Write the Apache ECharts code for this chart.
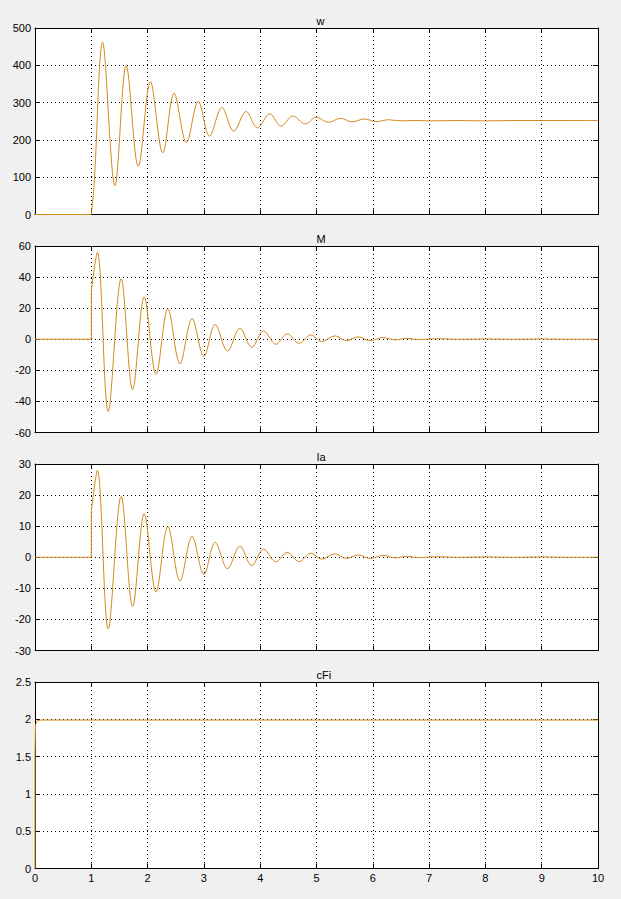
<!DOCTYPE html>
<html>
<head>
<meta charset="utf-8">
<script src="https://cdn.jsdelivr.net/npm/echarts@6/dist/echarts.min.js"></script>
<style>
html,body{margin:0;padding:0;background:#f0f0f0;}
#chart{width:621px;height:899px;}
</style>
</head>
<body>
<div id="chart"></div>
<script>
// ---- data ----
var panelTitles = ['w', 'M', 'Ia', 'cFi'];
var xTicks = [0, 1, 2, 3, 4, 5, 6, 7, 8, 9, 10];

// w : flat before the start, then damped oscillation towards ~252
var wFlatT = [0, 1.0];
var wFlatV = [0, 0];
var wT = [1.0, 1.05, 1.20, 1.42, 1.62, 1.835, 2.05, 2.27, 2.47, 2.69, 2.90, 3.10, 3.32, 3.53, 3.75, 3.95, 4.17, 4.37, 4.58, 4.80, 5.00, 5.21, 5.43, 5.63, 5.85, 6.07, 6.28, 6.5, 6.75, 7.0, 7.5, 8.0, 8.5, 9.0, 9.5, 10];
var wV = [0, 80, 462, 77, 399, 129, 356, 165, 325, 193, 303, 210, 287, 223, 276, 232, 270, 237, 264, 243, 261, 247, 258, 248, 256, 249, 254, 251, 252, 251, 252, 251, 252, 252, 252, 252];

// M : flat, step at t=1, damped oscillation around 0
var mFlatT = [0, 1.0, 1.0];
var mFlatV = [0, 0, 31];
var mT = [1.0, 1.107, 1.30, 1.53, 1.735, 1.94, 2.15, 2.36, 2.575, 2.79, 3.0, 3.20, 3.42, 3.64, 3.85, 4.06, 4.28, 4.48, 4.69, 4.90, 5.09, 5.33, 5.53, 5.74, 5.96, 6.18, 6.4, 6.6, 6.85, 7.1, 7.5, 8.0, 8.5, 9.0, 9.5, 10];
var mV = [31, 56, -46.5, 39, -32.5, 27.3, -22.6, 19.6, -15.7, 13.3, -11, 9.5, -7.6, 7.1, -5.2, 5.4, -3.2, 3.5, -2.6, 2.8, -1.5, 2.2, -0.9, 1.5, -0.9, 1.1, -0.4, 0.6, -0.3, 0.4, 0, 0.2, 0, 0.2, 0, 0];

// Ia : same shape, about half the amplitude
var iFlatT = [0, 1.0, 1.0];
var iFlatV = [0, 0, 15];
var iT = [1.0, 1.107, 1.30, 1.53, 1.735, 1.94, 2.15, 2.36, 2.575, 2.79, 3.0, 3.20, 3.42, 3.64, 3.85, 4.06, 4.28, 4.48, 4.69, 4.90, 5.09, 5.33, 5.53, 5.74, 5.96, 6.18, 6.4, 6.6, 6.85, 7.1, 7.5, 8.0, 8.5, 9.0, 9.5, 10];
var iV = [15, 27.9, -23.1, 19.6, -15.9, 14, -11.2, 9.9, -7.6, 6.7, -5.5, 4.8, -3.7, 3.6, -2.7, 2.6, -1.5, 1.6, -1.4, 1.3, -0.6, 1.1, -0.4, 0.75, -0.4, 0.6, -0.2, 0.3, -0.15, 0.2, 0, 0.1, 0, 0.1, 0, 0];

// cFi : quick rise at t=0, then constant
var cT = [0, 0, 0.01, 0.04, 0.1, 10];
var cV = [0, 1.53, 1.93, 1.98, 1.99, 1.99];

// y-axis ranges per panel
var yMins = [0, -60, -30, 0];
var yMaxs = [500, 60, 30, 2.5];
var yIntervals = [100, 20, 10, 0.5];

// ---- build the chart ----
function zip(t, v) { var out = []; for (var i = 0; i < t.length; i++) out.push([t[i], v[i]]); return out; }

var FONT = "'Liberation Sans', Arial, sans-serif";
var LINE_COLOR = '#d4891c';
var gridTops = [28, 246, 464, 682];
var gridH = 186.5;
var grids = [], xAxes = [], yAxes = [], graphics = [];

for (var p = 0; p < 4; p++) {
  grids.push({ left: 35, top: gridTops[p], width: 563, height: gridH, show: true, backgroundColor: '#ffffff', borderWidth: 0 });
  var common = {
    type: 'value', gridIndex: p, min: 0, max: 10, interval: 1,
    axisLine: { show: true, onZero: false, lineStyle: { color: '#000', width: 1 } },
    axisTick: { show: true, inside: true, length: 5, lineStyle: { color: '#000' } }
  };
  xAxes.push(Object.assign({}, common, {
    position: 'bottom',
    axisLabel: { show: p === 3, color: '#000', fontSize: 11, fontFamily: FONT, margin: 4 },
    splitLine: { show: true, lineStyle: { color: '#000', type: [1, 3], width: 1 } }
  }));
  xAxes.push(Object.assign({}, common, {
    position: 'top', axisLabel: { show: false }, splitLine: { show: false }
  }));
  var ycommon = {
    type: 'value', gridIndex: p, min: yMins[p], max: yMaxs[p], interval: yIntervals[p],
    axisLine: { show: true, onZero: false, lineStyle: { color: '#000', width: 1 } },
    axisTick: { show: true, inside: true, length: 5, lineStyle: { color: '#000' } }
  };
  yAxes.push(Object.assign({}, ycommon, {
    position: 'left',
    axisLabel: { show: true, color: '#000', fontSize: 11, fontFamily: FONT, margin: 4 },
    splitLine: { show: true, lineStyle: { color: '#000', type: [1, 3], width: 1 } }
  }));
  yAxes.push(Object.assign({}, ycommon, {
    position: 'right', axisLabel: { show: false }, splitLine: { show: false }
  }));
  graphics.push({
    type: 'text', left: 316.5, top: gridTops[p] - 13,
    style: { text: panelTitles[p], fill: '#000', font: '11px ' + FONT, textAlign: 'center' }
  });
}

function lineSeries(p, data, smooth) {
  return {
    type: 'line', xAxisIndex: 2 * p, yAxisIndex: 2 * p, data: data,
    smooth: smooth, showSymbol: false, symbol: 'none',
    lineStyle: { color: LINE_COLOR, width: 1 }, silent: true
  };
}

var series = [
  lineSeries(0, zip(wFlatT, wFlatV), false),
  lineSeries(0, zip(wT, wV), 0.35),
  lineSeries(1, zip(mFlatT, mFlatV), false),
  lineSeries(1, zip(mT, mV), 0.35),
  lineSeries(2, zip(iFlatT, iFlatV), false),
  lineSeries(2, zip(iT, iV), 0.35),
  lineSeries(3, zip(cT, cV), false)
];

var chart = echarts.init(document.getElementById('chart'), null, { renderer: 'svg', width: 621, height: 899 });
chart.setOption({
  backgroundColor: '#f0f0f0',
  animation: false,
  grid: grids,
  xAxis: xAxes,
  yAxis: yAxes,
  graphic: graphics,
  series: series
});
</script>
</body>
</html>
